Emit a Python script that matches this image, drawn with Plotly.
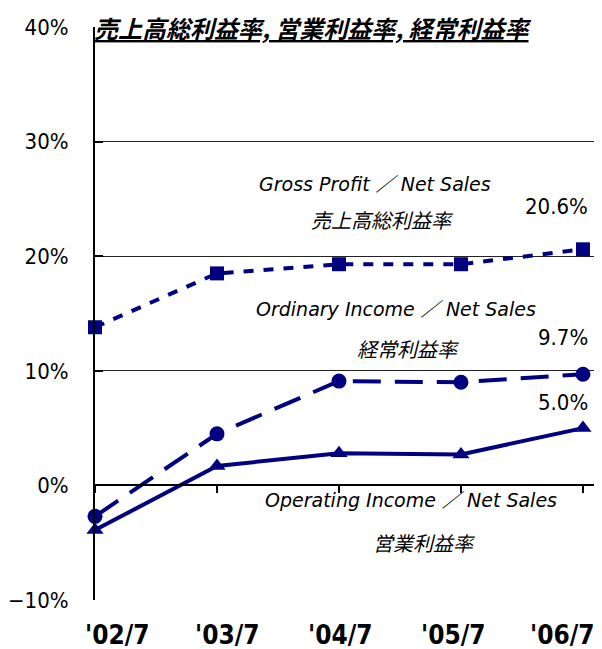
import plotly.graph_objects as go

categories = ["'02/7", "'03/7", "'04/7", "'05/7", "'06/7"]
gross = [13.8, 18.5, 19.3, 19.3, 20.6]
ordinary = [-2.7, 4.5, 9.1, 9.0, 9.7]
operating = [-3.9, 1.7, 2.8, 2.7, 5.0]
y_ticks = [-10, 0, 10, 20, 30, 40]
y_ticktext = ["−10%", "0%", "10%", "20%", "30%", "40%"]

NAVY = "#000080"
xs = list(range(len(categories)))

JP = "Noto Sans CJK JP"
NARROW = "DejaVu Sans Condensed, Liberation Sans Narrow, Liberation Sans"
LATIN = "DejaVu Sans, Noto Sans CJK JP"

fig = go.Figure()
fig.add_trace(go.Scatter(x=xs, y=gross, mode="lines+markers",
                         line=dict(color=NAVY, width=4, dash="10px,10px"),
                         marker=dict(symbol="square", size=14, color=NAVY),
                         cliponaxis=False, showlegend=False))
fig.add_trace(go.Scatter(x=xs, y=ordinary, mode="lines+markers",
                         line=dict(color=NAVY, width=4, dash="28px,14px"),
                         marker=dict(symbol="circle", size=15, color=NAVY),
                         cliponaxis=False, showlegend=False))
fig.add_trace(go.Scatter(x=xs, y=operating, mode="lines+markers",
                         line=dict(color=NAVY, width=4),
                         marker=dict(symbol="triangle-up", size=15, color=NAVY),
                         cliponaxis=False, showlegend=False))
# x axis line at 0% with tick marks
fig.add_trace(go.Scatter(x=xs, y=[None]*5, xaxis="x2", showlegend=False, hoverinfo="skip"))

# the page body has an 8px margin, so the figure is sized to fit the 602x649 window
fig.update_layout(
    width=594, height=641,
    margin=dict(l=87, r=5, t=19, b=49, autoexpand=False),
    paper_bgcolor="white", plot_bgcolor="white",
    xaxis=dict(range=[0, 4.115], tickvals=xs, showticklabels=False,
               showgrid=False, zeroline=False, showline=False, ticks="",
               automargin=False),
    xaxis2=dict(range=[0, 4.115], tickvals=xs, overlaying="x", anchor="free",
                position=0.2, showline=True, linecolor="black", linewidth=2,
                ticks="outside", ticklen=7, tickwidth=2, tickcolor="black",
                showticklabels=False, showgrid=False, zeroline=False, automargin=False),
    yaxis=dict(range=[-10, 40], tickvals=y_ticks, ticktext=y_ticktext,
               showgrid=True, gridcolor="#222222", gridwidth=1,
               zeroline=False, showline=True, linecolor="black", linewidth=2,
               ticks="inside", ticklen=8, tickwidth=2, tickcolor="black",
               tickfont=dict(family=NARROW, size=22, color="black"),
               ticklabelstandoff=20, automargin=False),
    font=dict(family=JP, color="black"),
)

# title
fig.add_annotation(x=0, xref="x", xanchor="left", xshift=-3, y=1.0, yref="paper",
                   yanchor="top", yshift=19,
                   text="<b><i><u>売上高総利益率, 営業利益率, 経常利益率</u></i></b>",
                   showarrow=False, font=dict(size=24, family=JP, color="black"))

# x category labels below the plot
label_shift = [22, 11, 2, -7, -20]
for i, c in enumerate(categories):
    fig.add_annotation(x=xs[i], xref="x", y=0, yref="paper", yanchor="top", yshift=-18,
                       xshift=label_shift[i], text=f"<b>{c}</b>", showarrow=False,
                       font=dict(size=26, family=NARROW, color="black"))

labels = [
    (2.295, 26.3, "<i>Gross Profit ／ Net Sales</i>", LATIN, 19),
    (2.36, 23.2, "<i>売上高総利益率</i>", JP, 20),
    (2.467, 15.4, "<i>Ordinary Income ／ Net Sales</i>", LATIN, 19),
    (2.57, 11.95, "<i>経常利益率</i>", JP, 20),
    (2.59, -1.3, "<i>Operating Income ／ Net Sales</i>", LATIN, 19),
    (2.697, -4.97, "<i>営業利益率</i>", JP, 20),
]
for x, y, t, fam, s in labels:
    fig.add_annotation(x=x, y=y, text=t, showarrow=False,
                       font=dict(size=s, family=fam, color="black"))

values = [(gross[4], 24.3), (ordinary[4], 12.9), (operating[4], 7.24)]
for v, ypos in values:
    fig.add_annotation(x=4, y=ypos, text=f"{v:.1f}%", showarrow=False, xanchor="right", xshift=7,
                       font=dict(size=22, family=NARROW, color="black"))

fig.write_html("out.html")
